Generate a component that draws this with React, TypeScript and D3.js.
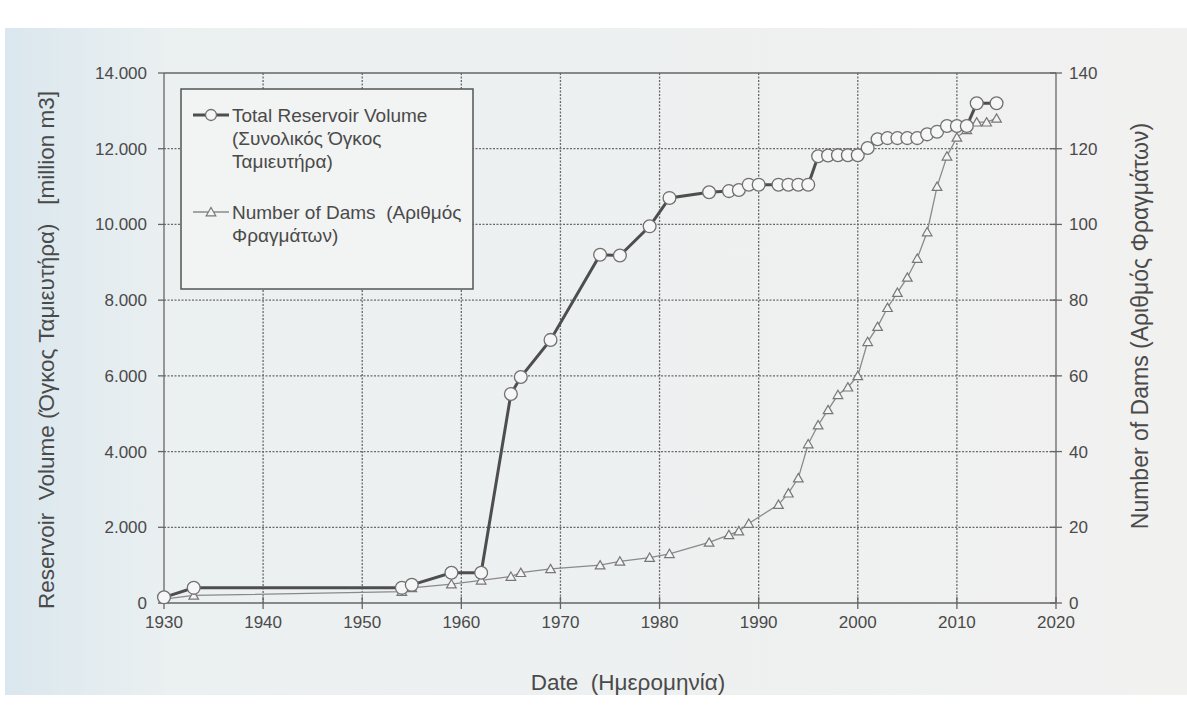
import React from "react";
import * as d3 from "d3";

const volumeYears = [1930,1933,1954,1955,1959,1962,1965,1966,1969,1974,1976,1979,1981,1985,1987,1988,1989,1990,1992,1993,1994,1995,1996,1997,1998,1999,2000,2001,2002,2003,2004,2005,2006,2007,2008,2009,2010,2011,2012,2014];
const volumeValues = [150,400,400,480,800,800,5520,5970,6950,9200,9180,9950,10700,10850,10880,10910,11050,11050,11050,11050,11050,11050,11800,11820,11830,11830,11830,12020,12250,12280,12280,12280,12280,12380,12450,12600,12600,12600,13200,13200];

const damYears = [1930,1933,1954,1955,1959,1962,1965,1966,1969,1974,1976,1979,1981,1985,1987,1988,1989,1992,1993,1994,1995,1996,1997,1998,1999,2000,2001,2002,2003,2004,2005,2006,2007,2008,2009,2010,2011,2012,2013,2014];
const damCounts = [1,2,3,4,5,6,7,8,9,10,11,12,13,16,18,19,21,26,29,33,42,47,51,55,57,60,69,73,78,82,86,91,98,110,118,123,125,127,127,128];

const xTicks = [1930,1940,1950,1960,1970,1980,1990,2000,2010,2020];
const leftTicks = [0,2000,4000,6000,8000,10000,12000,14000];
const rightTicks = [0,20,40,60,80,100,120,140];

const legendVolume = ["Total Reservoir Volume", "(Συνολικός Όγκος", "Ταμιευτήρα)"];
const legendDams = ["Number of Dams  (Αριθμός", "Φραγμάτων)"];
const xTitle = "Date  (Ημερομηνία)";
const yLeftTitle = "Reservoir  Volume (Όγκος Ταμιευτήρα)   [million m3]";
const yRightTitle = "Number of Dams (Αριθμός Φραγμάτων)";

const W = 1187, H = 705;
const L = 164, R = 1056, T = 73, B = 603;
const FONT = "'Liberation Sans', Arial, sans-serif";
const TXT = "#4a4a4a";

const locale = d3.formatLocale({ decimal: ",", thousands: ".", grouping: [3], currency: ["", "€"] });
const fmt = locale.format(",d");

export default function App() {
  const x = d3.scaleLinear().domain([1930, 2020]).range([L, R]);
  const yL = d3.scaleLinear().domain([0, 14000]).range([B, T]);
  const yR = d3.scaleLinear().domain([0, 140]).range([B, T]);

  const volData = volumeYears.map((yr, i) => [yr, volumeValues[i]] as [number, number]);
  const damData = damYears.map((yr, i) => [yr, damCounts[i]] as [number, number]);

  const volLine = d3.line<[number, number]>().x(d => x(d[0])).y(d => yL(d[1]));
  const damLine = d3.line<[number, number]>().x(d => x(d[0])).y(d => yR(d[1]));
  const tri = d3.symbol().type(d3.symbolTriangle).size(40)();

  return (
    <svg width={W} height={H} style={{ display: "block", position: "absolute", left: 0, top: 0 }} fontFamily={FONT}>
      <defs>
        <linearGradient id="bg" x1="0" x2="1" y1="0" y2="0">
          <stop offset="0" stopColor="#dae7ee" />
          <stop offset="0.14" stopColor="#ebf0f1" />
          <stop offset="1" stopColor="#f1f1f0" />
        </linearGradient>
      </defs>
      <rect x={0} y={0} width={W} height={H} fill="#ffffff" />
      <rect x={5} y={28} width={W - 5} height={667} fill="url(#bg)" />

      {/* grid */}
      {xTicks.slice(1, -1).map(t => (
        <line key={"gx" + t} x1={x(t)} x2={x(t)} y1={T} y2={B} stroke="#6a6a6a" strokeWidth={1.3} strokeDasharray="2,1.5" />
      ))}
      {leftTicks.slice(1, -1).map(t => (
        <line key={"gy" + t} x1={L} x2={R} y1={yL(t)} y2={yL(t)} stroke="#6a6a6a" strokeWidth={1.3} strokeDasharray="2,1.5" />
      ))}

      {/* frame */}
      <line x1={L} x2={R} y1={T} y2={T} stroke="#666" strokeWidth={1.3} />
      <line x1={L} x2={R} y1={B} y2={B} stroke="#666" strokeWidth={1.3} />
      <line x1={L} x2={L} y1={T} y2={B} stroke="#666" strokeWidth={1.3} />
      <line x1={R} x2={R} y1={T} y2={B} stroke="#666" strokeWidth={1.3} />

      {/* ticks */}
      {leftTicks.map(t => (
        <g key={"lt" + t}>
          <line x1={L - 6} x2={L} y1={yL(t)} y2={yL(t)} stroke="#666" strokeWidth={1.3} />
          <text x={L - 17} y={yL(t)} dy="0.35em" textAnchor="end" fontSize={17} fill={TXT}>{fmt(t)}</text>
        </g>
      ))}
      {rightTicks.map(t => (
        <g key={"rt" + t}>
          <line x1={R - 6} x2={R + 6} y1={yR(t)} y2={yR(t)} stroke="#666" strokeWidth={1.3} />
          <text x={R + 13} y={yR(t)} dy="0.35em" textAnchor="start" fontSize={17} fill={TXT}>{t}</text>
        </g>
      ))}
      {xTicks.map(t => (
        <g key={"xt" + t}>
          <line x1={x(t)} x2={x(t)} y1={B - 6} y2={B + 6} stroke="#666" strokeWidth={1.3} />
          <text x={x(t)} y={B + 25} textAnchor="middle" fontSize={17} fill={TXT}>{t}</text>
        </g>
      ))}

      {/* dams series */}
      <path d={damLine(damData) || ""} fill="none" stroke="#8a8a8a" strokeWidth={1.3} />
      {damData.map((d, i) => (
        <path key={"dm" + i} d={tri || ""} transform={`translate(${x(d[0])},${yR(d[1]) + 1})`} fill="#f4f4f4" stroke="#777" strokeWidth={1.2} />
      ))}

      {/* volume series */}
      <path d={volLine(volData) || ""} fill="none" stroke="#4e4e4e" strokeWidth={3} />
      {volData.map((d, i) => (
        <circle key={"vc" + i} cx={x(d[0])} cy={yL(d[1])} r={6.4} fill="#f6f6f6" stroke="#707070" strokeWidth={1.3} />
      ))}

      {/* legend */}
      <rect x={181} y={89} width={292} height={200} fill="#f2f3f3" stroke="#555" strokeWidth={1.5} />
      <line x1={193} x2={229} y1={115} y2={115} stroke="#4e4e4e" strokeWidth={3} />
      <circle cx={211} cy={115} r={5.5} fill="#f6f6f6" stroke="#707070" strokeWidth={1.3} />
      {legendVolume.map((s, i) => (
        <text key={"lv" + i} x={232} y={115 + i * 23} dy="0.35em" fontSize={19} fill={TXT}>{s}</text>
      ))}
      <line x1={193} x2={229} y1={212} y2={212} stroke="#8a8a8a" strokeWidth={1.3} />
      <path d={tri || ""} transform={`translate(211,213)`} fill="#f4f4f4" stroke="#777" strokeWidth={1.2} />
      {legendDams.map((s, i) => (
        <text key={"ld" + i} x={232} y={212 + i * 23} dy="0.35em" fontSize={19} fill={TXT} style={{ whiteSpace: "pre" }}>{s}</text>
      ))}

      {/* axis titles */}
      <text x={628} y={690} textAnchor="middle" fontSize={22.5} fill={TXT} style={{ whiteSpace: "pre" }}>{xTitle}</text>
      <text transform={`translate(46,350) rotate(-90)`} textAnchor="middle" dy="0.35em" fontSize={22.5} fill={TXT} style={{ whiteSpace: "pre" }}>{yLeftTitle}</text>
      <text transform={`translate(1140,326) rotate(-90)`} textAnchor="middle" dy="0.35em" fontSize={23} fill={TXT} style={{ whiteSpace: "pre" }}>{yRightTitle}</text>
    </svg>
  );
}
